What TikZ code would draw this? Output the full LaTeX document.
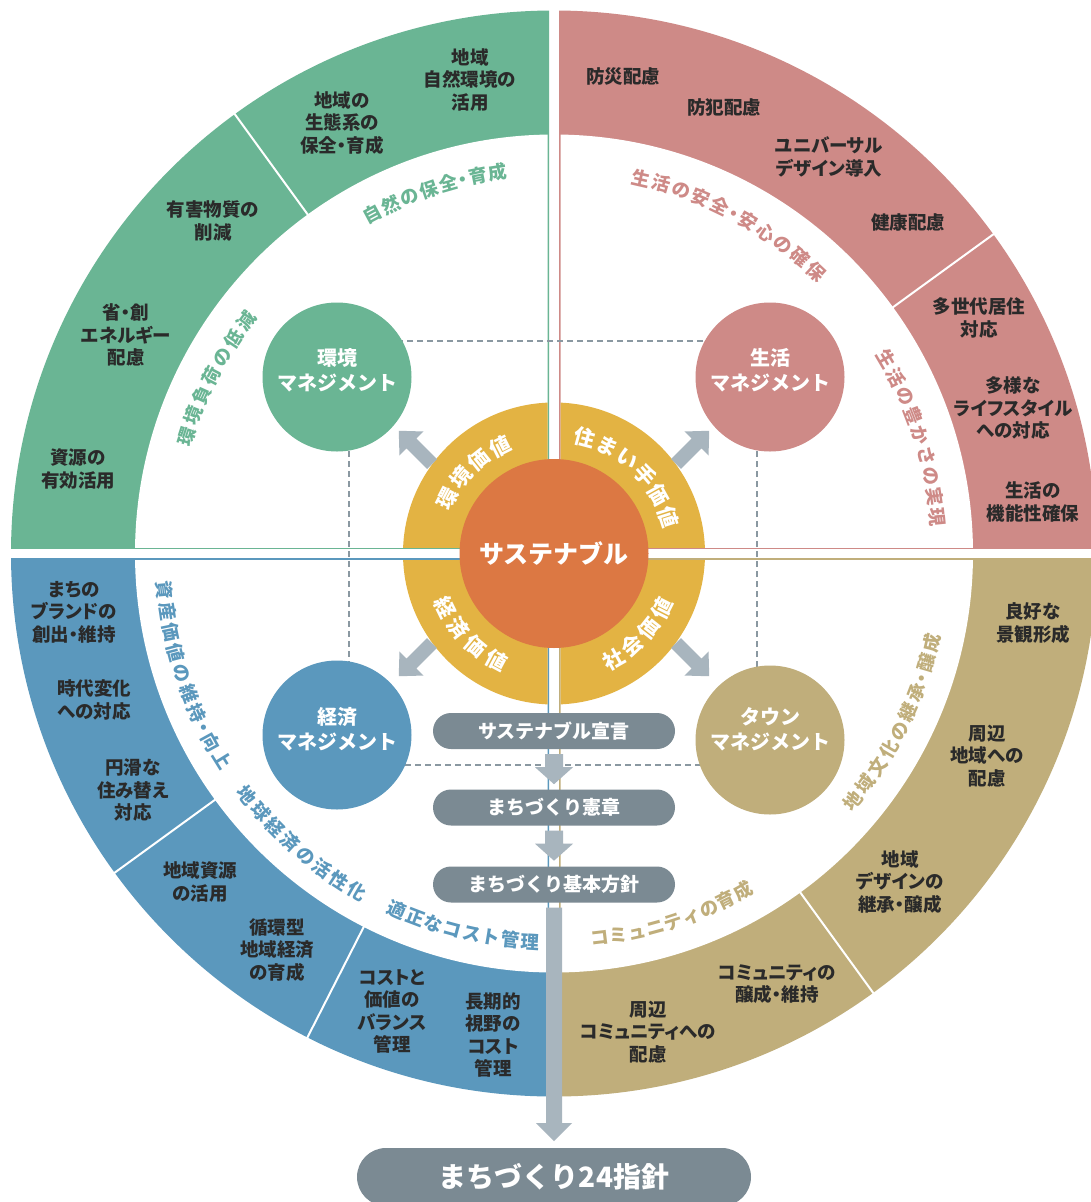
\documentclass[tikz,border=0pt]{standalone}
\usepackage{fontspec}
\setmainfont{Noto Sans CJK JP}
\newfontfamily\jpprop{Noto Sans CJK JP}[RawFeature=+palt]
\usetikzlibrary{calc}
\definecolor{cG}{HTML}{6AB594}
\definecolor{cR}{HTML}{CE8A87}
\definecolor{cB}{HTML}{5B98BD}
\definecolor{cT}{HTML}{C0AE7B}
\definecolor{cGold}{HTML}{E3B343}
\definecolor{cOr}{HTML}{DC7843}
\definecolor{cBox}{HTML}{7B8A93}
\definecolor{cArr}{HTML}{A8B5BE}
\definecolor{cTxt}{HTML}{2A2A2A}
\definecolor{cDash}{HTML}{8A98A1}
\tikzset{
 ringtxt/.style={align=center, text=cTxt, font=\jpprop\bfseries\fontsize{18.5}{22.5}\selectfont, inner sep=0pt},
 arcchar/.style={inner sep=0pt, text height=16.2pt, text depth=2.2pt, font=\bfseries\fontsize{18.5}{18.5}\selectfont},
 goldchar/.style={inner sep=0pt, text height=18.5pt, text depth=2.5pt, text=white, font=\bfseries\fontsize{21}{21}\selectfont},
 mgdisc/.style={circle, minimum size=149pt, inner sep=0pt},
 mgtxt/.style={align=center, text=white, inner sep=0pt, font=\bfseries\fontsize{20}{25}\selectfont},
 flowbox/.style={fill=cBox, rounded corners=18pt, minimum width=242pt, minimum height=36pt, inner sep=0pt, text=white, font=\bfseries\fontsize{19}{19}\selectfont},
 bigbox/.style={fill=cBox, rounded corners=29pt, minimum width=394pt, minimum height=58pt, inner sep=0pt, text=white, font=\bfseries\fontsize{28}{28}\selectfont},
}
% curved text: #1 style, #2 colour, #3 radius, #4 start angle, #5 step per unit, #6 rotation offset, #7 name prefix, #8 list of char/unit
\newcommand\arctxt[8]{%
 \foreach \ch/\u [count=\i] in {#8} {
   \pgfmathsetmacro\ang{#4+\u*(#5)}
   \node[#1, text=#2, rotate=\ang+#6] (#7-\i) at ({554+#3*cos(\ang)},{553.5-#3*sin(\ang)}) {\ch};
 }}
\begin{document}
\begin{tikzpicture}[x=1pt,y=-1pt]
\fill[white] (0,0) rectangle (1091,1202);
\useasboundingbox (0,0) rectangle (1091,1202);
\coordinate (C) at (554,553.5);
% quadrants
\begin{scope}\clip (0,0) rectangle (549,548.5); \fill[cG] (C) circle[radius=543]; \end{scope}
\begin{scope}\clip (559,0) rectangle (1091,548.5); \fill[cR] (C) circle[radius=543]; \end{scope}
\begin{scope}\clip (0,558.5) rectangle (549,1202); \fill[cB] (C) circle[radius=543]; \end{scope}
\begin{scope}\clip (559,558.5) rectangle (1091,1202); \fill[cT] (C) circle[radius=543]; \end{scope}
\begin{scope}\clip (0,0) rectangle (547.5,547); \fill[white] (C) circle[radius=419]; \end{scope}
\begin{scope}\clip (560.5,0) rectangle (1091,547); \fill[white] (C) circle[radius=419]; \end{scope}
\begin{scope}\clip (0,560) rectangle (547.5,1202); \fill[white] (C) circle[radius=419]; \end{scope}
\begin{scope}\clip (560.5,560) rectangle (1091,1202); \fill[white] (C) circle[radius=419]; \end{scope}
% segment dividers
\foreach \a in {126,36,216,243,306}
  \draw[white, line width=2pt] ({554+418*cos(\a)},{553.5-418*sin(\a)}) -- ({554+546*cos(\a)},{553.5-546*sin(\a)});
% dashed frame
\coordinate (dA) at (349,341);
\coordinate (dB) at (757,765);
\draw[cDash, line width=1.2pt, dash pattern=on 6pt off 4pt] (dA) rectangle (dB);
% gold ring
\begin{scope}\clip (0,0) rectangle (547.5,547); \fill[cGold] (C) circle[radius=151]; \end{scope}
\begin{scope}\clip (560.5,0) rectangle (1091,547); \fill[cGold] (C) circle[radius=151]; \end{scope}
\begin{scope}\clip (0,560) rectangle (547.5,1202); \fill[cGold] (C) circle[radius=151]; \end{scope}
\begin{scope}\clip (560.5,560) rectangle (1091,1202); \fill[cGold] (C) circle[radius=151]; \end{scope}
\node[circle, fill=cOr, minimum size=189pt, inner sep=0pt, text=white, font=\bfseries\fontsize{25}{25}\selectfont] (core) at (C) {サステナブル};
% diagonal arrows
\foreach \bx/\by/\rot in {432/464/135, 676/464/45, 432/643/225, 676/643/-45}{
 \begin{scope}[shift={(\bx,\by)}, rotate=\rot]
  \fill[cArr] (0,-7) -- (29,-7) -- (29,-17) -- (47,0) -- (29,17) -- (29,7) -- (0,7) -- cycle;
 \end{scope}}
% management circles
\node[mgdisc, fill=cG] (mgE) at (337,377) {};
\node[mgdisc, fill=cR] (mgL) at (770,377) {};
\node[mgdisc, fill=cB] (mgK) at (337,735) {};
\node[mgdisc, fill=cT] (mgT) at (770,740) {};
\node[mgtxt] (mgEt) at (337,370) {環境\\マネジメント};
\node[mgtxt] (mgLt) at (770,370) {生活\\マネジメント};
\node[mgtxt] (mgKt) at (337,729) {経済\\マネジメント};
\node[mgtxt] (mgTt) at (770,729) {タウン\\マネジメント};
% flow
\node[flowbox] (b1) at (554,731) {サステナブル宣言};
\node[flowbox] (b2) at (554,807.5) {まちづくり憲章};
\node[flowbox] (b3) at (554,884.5) {まちづくり基本方針};
\node[bigbox] (b4) at (554,1177) {まちづくり24指針};
\fill[cArr] ($(b1.south)+(-9,5)$) -- ++(18,0) -- ++(0,13) -- ++(10,0) -- ++(-19,17) -- ++(-19,-17) -- ++(10,0) -- cycle;
\fill[cArr] ($(b2.south)+(-9,5)$) -- ++(18,0) -- ++(0,13) -- ++(10,0) -- ++(-19,17) -- ++(-19,-17) -- ++(10,0) -- cycle;
\fill[cArr] ($(b3.south)+(-8,5)$) -- ++(16,0) -- ++(0,215.5) -- ++(10,0) -- ++(-18,18) -- ++(-18,-18) -- ++(10,0) -- cycle;
% ring texts green
\node[ringtxt] (g1) at (470,80) {地域\\自然環境の\\活用};
\node[ringtxt] (g2) at (342,123) {地域の\\生態系の\\保全・育成};
\node[ringtxt] (g3) at (213,221) {有害物質の\\削減};
\node[ringtxt] (g4) at (126,335) {省・創\\エネルギー\\配慮};
\node[ringtxt] (g5) at (78,469) {資源の\\有効活用};
% red
\node[ringtxt] (r1) at (623,77) {防災配慮};
\node[ringtxt] (r2) at (724,107) {防犯配慮};
\node[ringtxt] (r3) at (829,157) {ユニバーサル\\デザイン導入};
\node[ringtxt] (r4) at (908,223) {健康配慮};
\node[ringtxt] (r5) at (979,318) {多世代居住\\対応};
\node[ringtxt] (r6) at (1013,408) {多様な\\ライフスタイル\\への対応};
\node[ringtxt] (r7) at (1033,502) {生活の\\機能性確保};
% blue
\node[ringtxt] (k1) at (74,612) {まちの\\ブランドの\\創出・維持};
\node[ringtxt] (k2) at (94,700) {時代変化\\への対応};
\node[ringtxt] (k3) at (133,790) {円滑な\\住み替え\\対応};
\node[ringtxt] (k4) at (200,882) {地域資源\\の活用};
\node[ringtxt] (k5) at (277,950) {循環型\\地域経済\\の育成};
\node[ringtxt] (k6) at (392,1011.5) {コストと\\価値の\\バランス\\管理};
\node[ringtxt] (k7) at (493,1035) {長期的\\視野の\\コスト\\管理};
% tan
\node[ringtxt] (t1) at (1033,623) {良好な\\景観形成};
\node[ringtxt] (t2) at (987,756) {周辺\\地域への\\配慮};
\node[ringtxt] (t3) at (900,882) {地域\\デザインの\\継承・醸成};
\node[ringtxt] (t4) at (777,984) {コミュニティの\\醸成・維持};
\node[ringtxt] (t5) at (648,1032) {周辺\\コミュニティへの\\配慮};
% curved labels
\arctxt{arcchar}{cG}{385}{118.1}{-3.03}{-90}{ag1}{自/0,然/1,の/2,保/3,全/4,・/4.75,育/5.5,成/6.5}
\arctxt{arcchar}{cG}{386}{162.3}{-3.23}{-90}{ag2}{環/0,境/1,負/2,荷/3,の/4,低/5,減/6}
\arctxt{arcchar}{cR}{385}{77.0}{-3.147}{-90}{ar1}{生/0,活/1,の/2,安/3,全/4,・/4.75,安/5.5,心/6.5,の/7.5,確/8.5,保/9.5}
\arctxt{arcchar}{cR}{385}{30.4}{-3.125}{-90}{ar2}{生/0,活/1,の/2,豊/3,か/4,さ/5,の/6,実/7,現/8}
\arctxt{arcchar}{cB}{391}{185.4}{3.118}{90}{ab1}{資/0,産/1,価/2,値/3,の/4,維/5,持/6,・/6.75,向/7.5,上/8.5}
\arctxt{arcchar}{cB}{391}{218.3}{3.07}{90}{ab2}{地/0,球/1,経/2,済/3,の/4,活/5,性/6,化/7}
\arctxt{arcchar}{cB}{389}{246.2}{2.89}{90}{ab3}{適/0,正/1,な/2,コ/3,ス/4,ト/5,管/6,理/7}
\arctxt{arcchar}{cT}{387}{276.8}{2.8}{90}{at1}{コ/0,ミ/1,ュ/2,ニ/3,テ/4,ィ/5,の/6,育/7,成/8}
\arctxt{arcchar}{cT}{388}{320.4}{3.094}{90}{at2}{地/0,域/1,文/2,化/3,の/4,継/5,承/6,・/6.75,醸/7.5,成/8.5}
% gold ring labels
\arctxt{goldchar}{white}{120}{152.6}{-11.97}{-90}{v1}{環/0,境/1,価/2,値/3}
\arctxt{goldchar}{white}{120}{75}{-11.44}{-90}{v2}{住/0,ま/1,い/2,手/3,価/4,値/5}
\arctxt{goldchar}{white}{121}{206.2}{11.87}{90}{v3}{経/0,済/1,価/2,値/3}
\arctxt{goldchar}{white}{121}{299.4}{11.2}{90}{v4}{社/0,会/1,価/2,値/3}
\end{tikzpicture}
\end{document}
